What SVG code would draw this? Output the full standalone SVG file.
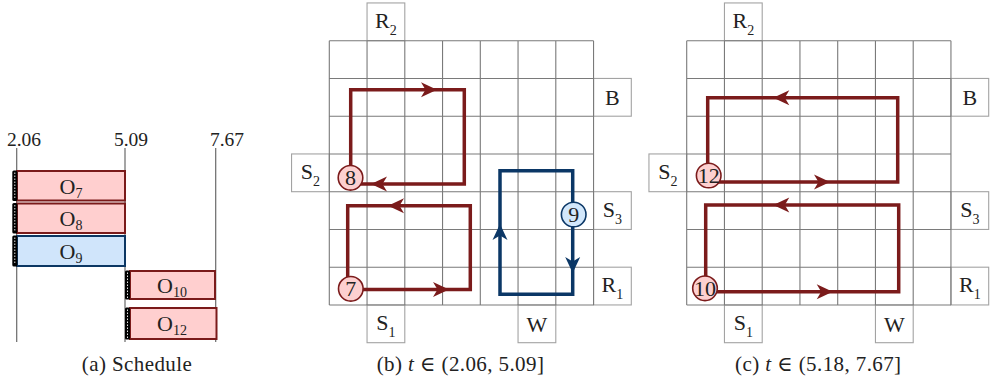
<svg xmlns="http://www.w3.org/2000/svg" width="990" height="381" viewBox="0 0 990 381">
<style>
text { font-family: "Liberation Serif", "DejaVu Serif", serif; fill: #222; }
.gl { fill: none; stroke: #7a7a7a; stroke-width: 1.1; }
.bx { fill: #fff; stroke: #a3a3a3; stroke-width: 1.1; }
.lbl { font-size: 22px; text-anchor: middle; }
.sub { font-size: 14px; }
.red { fill: none; stroke: #7b1b1b; stroke-width: 3.5; }
.blue { fill: none; stroke: #0b3766; stroke-width: 3.5; }
.ar { fill: #7b1b1b; }
.ab { fill: #0b3766; }
.cr { fill: #fdd0d0; stroke: #7b1b1b; stroke-width: 1.6; }
.cb { fill: #d2e7fb; stroke: #0b3766; stroke-width: 1.6; }
.num { font-size: 22px; text-anchor: middle; }
.tick { fill: none; stroke: #6a6a6a; stroke-width: 1.2; }
.barr { fill: #ffcfcf; stroke: #7a1a1a; stroke-width: 2; }
.barb { fill: #d0e5fb; stroke: #0c3763; stroke-width: 2; }
.stripe { fill: #000; }
.dash { stroke: #fff; stroke-width: 0.9; stroke-dasharray: 1.5 1.5; }
.cap { font-size: 21px; text-anchor: middle; letter-spacing: 0.4px; }
.tl { font-size: 19.5px; text-anchor: middle; }
</style>
<defs>
<path id="ah" d="M0,0 L-16,-7.5 L-11.5,0 L-16,7.5 Z"/>
</defs>
<rect width="990" height="381" fill="#fff"/>

<!-- (a) Schedule -->
<g id="schedule">
  <path class="tick" d="M16.7,148V342 M125,148V342 M215.7,148V342"/>
  <text class="tl" x="24" y="146">2.06</text>
  <text class="tl" x="131" y="146">5.09</text>
  <text class="tl" x="227" y="146">7.67</text>
  <g id="O7">
    <rect class="barr" x="17" y="171" width="108" height="29.5"/>
    <rect class="stripe" x="12.3" y="170.5" width="5" height="30.5" rx="1.5"/>
    <path class="dash" d="M14.8,172.5V199"/>
    <text class="lbl" x="71" y="193.5">O<tspan class="sub" dy="4">7</tspan></text>
  </g>
  <g id="O8">
    <rect class="barr" x="17" y="203.5" width="108" height="29.5"/>
    <rect class="stripe" x="12.3" y="203" width="5" height="30.5" rx="1.5"/>
    <path class="dash" d="M14.8,205V231.5"/>
    <text class="lbl" x="71" y="226">O<tspan class="sub" dy="4">8</tspan></text>
  </g>
  <g id="O9">
    <rect class="barb" x="17" y="236" width="108" height="30"/>
    <rect class="stripe" x="12.3" y="235.5" width="5" height="31" rx="1.5"/>
    <path class="dash" d="M14.8,237.5V264.5"/>
    <text class="lbl" x="71" y="259">O<tspan class="sub" dy="4">9</tspan></text>
  </g>
  <g id="O10">
    <rect class="barr" x="130" y="271" width="85" height="28"/>
    <rect class="stripe" x="125" y="270.5" width="5" height="29" rx="1.5"/>
    <path class="dash" d="M127.5,272.5V298"/>
    <text class="lbl" x="172" y="292.5">O<tspan class="sub" dy="4">10</tspan></text>
  </g>
  <g id="O12">
    <rect class="barr" x="130" y="308" width="86.5" height="31"/>
    <rect class="stripe" x="125" y="307.5" width="5" height="32" rx="1.5"/>
    <path class="dash" d="M127.5,309.5V338"/>
    <text class="lbl" x="172" y="331">O<tspan class="sub" dy="4">12</tspan></text>
  </g>
  <text class="cap" x="137" y="371">(a) Schedule</text>
</g>

<!-- (b) grid -->
<g id="grid-b" transform="translate(329.3,40.7)">
  <rect class="bx" x="37.75" y="-37.75" width="37.75" height="37.75"/>
  <rect class="bx" x="264.25" y="37.75" width="37.75" height="37.75"/>
  <rect class="bx" x="-37.75" y="113.25" width="37.75" height="37.75"/>
  <rect class="bx" x="264.25" y="151" width="37.75" height="37.75"/>
  <rect class="bx" x="264.25" y="226.5" width="37.75" height="37.75"/>
  <rect class="bx" x="37.75" y="264.25" width="37.75" height="37.75"/>
  <rect class="bx" x="188.75" y="264.25" width="37.75" height="37.75"/>
  <path class="gl" d="M0,0V264.25 M37.75,0V264.25 M75.5,0V264.25 M113.25,0V264.25 M151,0V264.25 M188.75,0V264.25 M226.5,0V264.25 M264.25,0V264.25 M0,0H264.25 M0,37.75H264.25 M0,75.5H264.25 M0,113.25H264.25 M0,151H264.25 M0,188.75H264.25 M0,226.5H264.25 M0,264.25H264.25"/>
  <text class="lbl" x="56.6" y="-13">R<tspan class="sub" dy="7">2</tspan></text>
  <text class="lbl" x="283.1" y="64.5">B</text>
  <text class="lbl" x="-18.9" y="138">S<tspan class="sub" dy="7">2</tspan></text>
  <text class="lbl" x="283.1" y="175.9">S<tspan class="sub" dy="7">3</tspan></text>
  <text class="lbl" x="283.1" y="251.4">R<tspan class="sub" dy="7">1</tspan></text>
  <text class="lbl" x="56.6" y="289.1">S<tspan class="sub" dy="7">1</tspan></text>
  <text class="lbl" x="207.6" y="291">W</text>
</g>

<!-- (c) grid -->
<g id="grid-c" transform="translate(686.7,40.7)">
  <rect class="bx" x="37.75" y="-37.75" width="37.75" height="37.75"/>
  <rect class="bx" x="264.25" y="37.75" width="37.75" height="37.75"/>
  <rect class="bx" x="-37.75" y="113.25" width="37.75" height="37.75"/>
  <rect class="bx" x="264.25" y="151" width="37.75" height="37.75"/>
  <rect class="bx" x="264.25" y="226.5" width="37.75" height="37.75"/>
  <rect class="bx" x="37.75" y="264.25" width="37.75" height="37.75"/>
  <rect class="bx" x="188.75" y="264.25" width="37.75" height="37.75"/>
  <path class="gl" d="M0,0V264.25 M37.75,0V264.25 M75.5,0V264.25 M113.25,0V264.25 M151,0V264.25 M188.75,0V264.25 M226.5,0V264.25 M264.25,0V264.25 M0,0H264.25 M0,37.75H264.25 M0,75.5H264.25 M0,113.25H264.25 M0,151H264.25 M0,188.75H264.25 M0,226.5H264.25 M0,264.25H264.25"/>
  <text class="lbl" x="56.6" y="-13">R<tspan class="sub" dy="7">2</tspan></text>
  <text class="lbl" x="283.1" y="64.5">B</text>
  <text class="lbl" x="-18.9" y="138">S<tspan class="sub" dy="7">2</tspan></text>
  <text class="lbl" x="283.1" y="175.9">S<tspan class="sub" dy="7">3</tspan></text>
  <text class="lbl" x="283.1" y="251.4">R<tspan class="sub" dy="7">1</tspan></text>
  <text class="lbl" x="56.6" y="289.1">S<tspan class="sub" dy="7">1</tspan></text>
  <text class="lbl" x="207.6" y="291">W</text>
</g>

<!-- connectors -->
<g id="connectors">
  <path class="red" d="M350.7,177.8 V89.7 H464.3 V184 H350"/>
  <path class="red" d="M350,289.4 H470.3 V205.7 H347.7 V289"/>
  <path class="blue" d="M572.7,214.5 V294.3 H500 V170.8 H572.7 V214.5"/>
  <path class="red" d="M707.7,175.5 V97.7 H897.7 V182 H708"/>
  <path class="red" d="M705,291.7 H898.7 V205 H705.7 V288.3"/>
  <use href="#ah" class="ar" transform="translate(437,89.7)"/>
  <use href="#ah" class="ar" transform="translate(371,184) rotate(180)"/>
  <use href="#ah" class="ar" transform="translate(449,289.4)"/>
  <use href="#ah" class="ar" transform="translate(388,205.7) rotate(180)"/>
  <use href="#ah" class="ab" transform="translate(572.7,273) rotate(90)"/>
  <use href="#ah" class="ab" transform="translate(500,224) rotate(-90)"/>
  <use href="#ah" class="ar" transform="translate(773.3,97.7) rotate(180)"/>
  <use href="#ah" class="ar" transform="translate(830,182)"/>
  <use href="#ah" class="ar" transform="translate(832.7,291.7)"/>
  <use href="#ah" class="ar" transform="translate(773.3,205) rotate(180)"/>
</g>

<!-- nodes -->
<g id="n8"><circle class="cr" cx="350.5" cy="177.8" r="12.3"/><text class="num" x="350.5" y="185.3">8</text></g>
<g id="n7"><circle class="cr" cx="350.8" cy="288.8" r="12.3"/><text class="num" x="350.8" y="296.3">7</text></g>
<g id="n9"><circle class="cb" cx="573.7" cy="214.5" r="12.3"/><text class="num" x="573.7" y="222">9</text></g>
<g id="n12"><circle class="cr" cx="708.7" cy="175.5" r="12.3"/><text class="num" x="708.7" y="183">12</text></g>
<g id="n10"><circle class="cr" cx="705" cy="288.3" r="12.3"/><text class="num" x="705" y="295.8">10</text></g>

<text class="cap" x="460.5" y="371">(b) <tspan font-style="italic">t</tspan> ∈ (2.06, 5.09]</text>
<text class="cap" x="818.3" y="371">(c) <tspan font-style="italic">t</tspan> ∈ (5.18, 7.67]</text>
</svg>
